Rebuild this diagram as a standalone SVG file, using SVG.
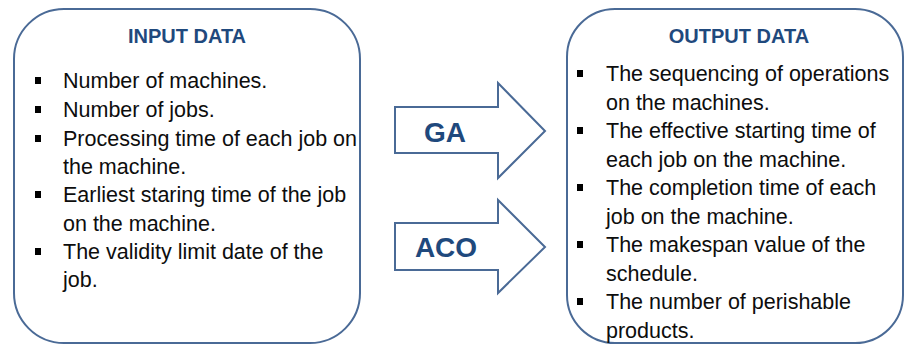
<svg xmlns="http://www.w3.org/2000/svg" width="904" height="345" viewBox="0 0 904 345">
<style>
.box{fill:#fff;stroke:#4A6A96;stroke-width:2}
.arrow{fill:#fff;stroke:#4A6A96;stroke-width:2;stroke-linejoin:miter}
.title{font-family:"Liberation Sans",Arial,sans-serif;font-weight:bold;font-size:20px;fill:#1F497D;text-anchor:middle}
.algo{font-family:"Liberation Sans",Arial,sans-serif;font-weight:bold;font-size:28px;fill:#1F497D;text-anchor:middle}
.item{font-family:"Liberation Sans",Arial,sans-serif;font-size:21.5px;fill:#0d0d0d}
.bullet{fill:#000}
</style>
<rect width="904" height="345" fill="#fff"/>
<g id="input-data">
<rect class="box" x="14" y="9" width="346" height="334" rx="50" ry="50"/>
<text class="title" x="187" y="43">INPUT DATA</text>
<rect class="bullet" x="35" y="77" width="6" height="7"/>
<text class="item" x="63" y="88">Number of machines.</text>
<rect class="bullet" x="35" y="106" width="6" height="7"/>
<text class="item" x="63" y="117">Number of jobs.</text>
<rect class="bullet" x="35" y="135" width="6" height="7"/>
<text class="item" x="63" y="146">Processing time of each job on</text>
<text class="item" x="63" y="174">the machine.</text>
<rect class="bullet" x="35" y="191" width="6" height="7"/>
<text class="item" x="63" y="202">Earliest staring time of the job</text>
<text class="item" x="63" y="231">on the machine.</text>
<rect class="bullet" x="35" y="248" width="6" height="7"/>
<text class="item" x="63" y="259">The validity limit date of the</text>
<text class="item" x="63" y="287">job.</text>
</g>
<g id="connectors">
<g id="ga-arrow">
<polygon class="arrow" points="395,107 498,107 498,83 545,131 498,178 498,153 395,153"/>
<text class="algo" x="445" y="142">GA</text>
</g>
<g id="aco-arrow">
<polygon class="arrow" points="395,223 498,223 498,200 545,247 498,293 498,270 395,270"/>
<text class="algo" x="446" y="257">ACO</text>
</g>
</g>
<g id="output-data">
<rect class="box" x="567" y="9" width="336" height="334" rx="48" ry="48"/>
<text class="title" x="739" y="43">OUTPUT DATA</text>
<rect class="bullet" x="577" y="70" width="6" height="7"/>
<text class="item" x="606" y="81">The sequencing of operations</text>
<text class="item" x="606" y="109.5">on the machines.</text>
<rect class="bullet" x="577" y="127" width="6" height="7"/>
<text class="item" x="606" y="138">The effective starting time of</text>
<text class="item" x="606" y="166.5">each job on the machine.</text>
<rect class="bullet" x="577" y="184" width="6" height="7"/>
<text class="item" x="606" y="195">The completion time of each</text>
<text class="item" x="606" y="223.5">job on the machine.</text>
<rect class="bullet" x="577" y="241" width="6" height="7"/>
<text class="item" x="606" y="252">The makespan value of the</text>
<text class="item" x="606" y="280.5">schedule.</text>
<rect class="bullet" x="577" y="298" width="6" height="7"/>
<text class="item" x="606" y="309">The number of perishable</text>
<text class="item" x="606" y="337.5">products.</text>
</g>
</svg>
